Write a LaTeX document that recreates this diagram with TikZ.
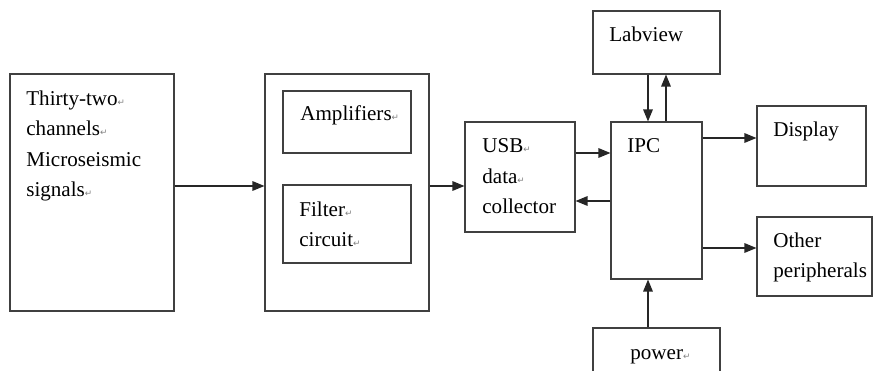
\documentclass[tikz,border=0pt]{standalone}
\usepackage{fontspec}
\setmainfont{Liberation Serif}
\newfontfamily\retfont{DejaVu Sans}
\usetikzlibrary{arrows.meta}

% paragraph mark after a line
\newcommand{\ret}{{\retfont\fontsize{5}{5}\selectfont\textcolor{gray}{↵}}}

\begin{document}
\begin{tikzpicture}[
    x=0.02cm, y=-0.02cm,
    box/.style={draw=black!75, line width=0.6pt, inner sep=0pt},
    txt/.style={anchor=base west, align=left, inner sep=0pt, font=\fontsize{12}{17.4}\selectfont},
    arr/.style={-{Triangle[length=0.24cm, width=0.19cm]}, line width=0.8pt, black!85}
]
\useasboundingbox (0,0) rectangle (873,371);

% Define the blocks
\node[box, minimum width=3.28cm, minimum height=4.74cm] (src) at (92,192.5) {};
\node[box, minimum width=3.28cm, minimum height=4.74cm] (mid) at (347,192.5) {};
\node[box, minimum width=2.56cm, minimum height=1.24cm] (amp) at (347,122) {};
\node[box, minimum width=2.56cm, minimum height=1.56cm] (filt) at (347,224) {};
\node[box, minimum width=2.20cm, minimum height=2.20cm] (usb) at (520,177) {};
\node[box, minimum width=1.82cm, minimum height=3.14cm] (ipc) at (656.5,200.5) {};
\node[box, minimum width=2.54cm, minimum height=1.26cm] (lab) at (656.5,42.5) {};
\node[box, minimum width=2.54cm, minimum height=1.24cm] (pwr) at (656.5,359) {};
\node[box, minimum width=2.18cm, minimum height=1.60cm] (disp) at (811.5,146) {};
\node[box, minimum width=2.30cm, minimum height=1.58cm] (oth) at (814.5,256.5) {};

% Texts in the blocks (base = last line)
\node[txt] (srcT) at (26,197) {Thirty-two\ret\\channels\ret\\Microseismic\\signals\ret};
\node[txt] (ampT) at (300,121) {Amplifiers\ret};
\node[txt] (filtT) at (299,247) {Filter\ret\\circuit\ret};
\node[txt] (usbT) at (482,214) {USB\ret\\data\ret\\collector};
\node[txt] (labT) at (609,42) {Labview};
\node[txt] (ipcT) at (627,153) {IPC};
\node[txt] (pwrT) at (630,360) {power\ret};
\node[txt] (dispT) at (773,137) {Display};
\node[txt] (othT) at (773,278) {Other\\peripherals};

% Rows and columns of the connectors
\coordinate (r1) at (0,186);
\coordinate (r2) at (0,153);
\coordinate (r3) at (0,201);
\coordinate (r4) at (0,138);
\coordinate (r5) at (0,248);
\coordinate (c1) at (648,0);
\coordinate (c2) at (666,0);

% Draw connectors
\draw[arr] (src.east |- r1) -- (mid.west |- r1);
\draw[arr] (mid.east |- r1) -- (usb.west |- r1);
\draw[arr] (usb.east |- r2) -- (ipc.west |- r2);
\draw[arr] (ipc.west |- r3) -- (usb.east |- r3);
\draw[arr] (lab.south -| c1) -- (ipc.north -| c1);
\draw[arr] (ipc.north -| c2) -- (lab.south -| c2);
\draw[arr] (pwr.north -| c1) -- (ipc.south -| c1);
\draw[arr] (ipc.east |- r4) -- (disp.west |- r4);
\draw[arr] (ipc.east |- r5) -- (oth.west |- r5);

\end{tikzpicture}
\end{document}
